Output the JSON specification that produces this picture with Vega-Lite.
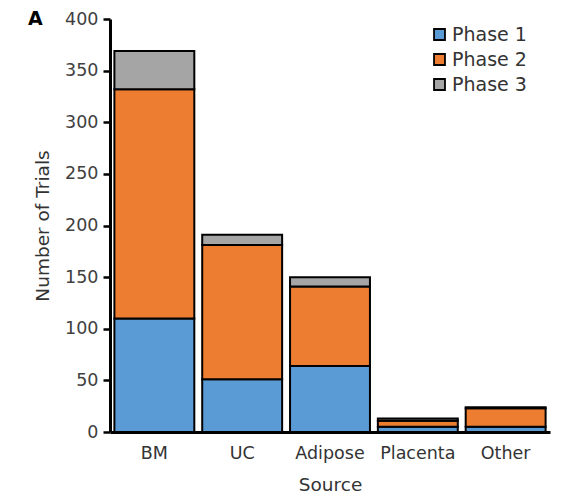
{
  "$schema": "https://vega.github.io/schema/vega-lite/v6.json",
  "autosize": {"type": "none"},
  "width": 440,
  "height": 413,
  "padding": {"left": 110, "top": 19, "right": 25, "bottom": 65},
  "config": {
    "font": "DejaVu Sans",
    "view": {"stroke": null},
    "axis": {"grid": false}
  },
  "title": {
    "text": "A",
    "anchor": "start",
    "frame": "group",
    "fontSize": 19,
    "fontWeight": "bold",
    "color": "#000000",
    "dx": -82,
    "offset": -19,
    "font": "DejaVu Sans"
  },
  "data": {
    "values": [
      {"source": "BM", "phase": "Phase 1", "trials": 110},
      {"source": "BM", "phase": "Phase 2", "trials": 222},
      {"source": "BM", "phase": "Phase 3", "trials": 37},
      {"source": "UC", "phase": "Phase 1", "trials": 51},
      {"source": "UC", "phase": "Phase 2", "trials": 130},
      {"source": "UC", "phase": "Phase 3", "trials": 10},
      {"source": "Adipose", "phase": "Phase 1", "trials": 64},
      {"source": "Adipose", "phase": "Phase 2", "trials": 77},
      {"source": "Adipose", "phase": "Phase 3", "trials": 9},
      {"source": "Placenta", "phase": "Phase 1", "trials": 5},
      {"source": "Placenta", "phase": "Phase 2", "trials": 6},
      {"source": "Placenta", "phase": "Phase 3", "trials": 2},
      {"source": "Other", "phase": "Phase 1", "trials": 5},
      {"source": "Other", "phase": "Phase 2", "trials": 18},
      {"source": "Other", "phase": "Phase 3", "trials": 1}
    ]
  },
  "mark": {"type": "bar", "stroke": "#000000", "strokeWidth": 2},
  "encoding": {
    "x": {
      "field": "source",
      "type": "nominal",
      "sort": ["BM", "UC", "Adipose", "Placenta", "Other"],
      "scale": {"paddingInner": 0.09, "paddingOuter": 0.05},
      "axis": {
        "title": "Source",
        "titleFontSize": 18.5,
        "titleFontWeight": "normal",
        "titleColor": "#333333",
        "titlePadding": 14,
        "labelAngle": 0,
        "labelFontSize": 17.5,
        "labelColor": "#333333",
        "labelPadding": 12,
        "ticks": false,
        "domainColor": "#000000",
        "domainWidth": 3
      }
    },
    "y": {
      "field": "trials",
      "type": "quantitative",
      "stack": "zero",
      "scale": {"domain": [0, 400], "nice": false},
      "axis": {
        "title": "Number of Trials",
        "values": [0, 50, 100, 150, 200, 250, 300, 350, 400],
        "titleFontSize": 18.5,
        "titleFontWeight": "normal",
        "titleColor": "#333333",
        "titlePadding": 12,
        "labelFontSize": 17.5,
        "labelColor": "#404040",
        "labelPadding": 5,
        "tickColor": "#000000",
        "tickWidth": 2.5,
        "tickSize": 7,
        "domainColor": "#000000",
        "domainWidth": 3
      }
    },
    "color": {
      "field": "phase",
      "type": "nominal",
      "scale": {
        "domain": ["Phase 1", "Phase 2", "Phase 3"],
        "range": ["#5B9BD5", "#ED7D31", "#A5A5A5"]
      },
      "legend": {
        "title": null,
        "orient": "none",
        "legendX": 320,
        "legendY": 6,
        "symbolType": "square",
        "symbolSize": 120,
        "symbolStrokeColor": "#000000",
        "symbolStrokeWidth": 1.8,
        "labelFontSize": 19,
        "labelColor": "#333333",
        "rowPadding": 5,
        "labelOffset": 3
      }
    },
    "order": {"field": "phase", "sort": "ascending"}
  }
}
